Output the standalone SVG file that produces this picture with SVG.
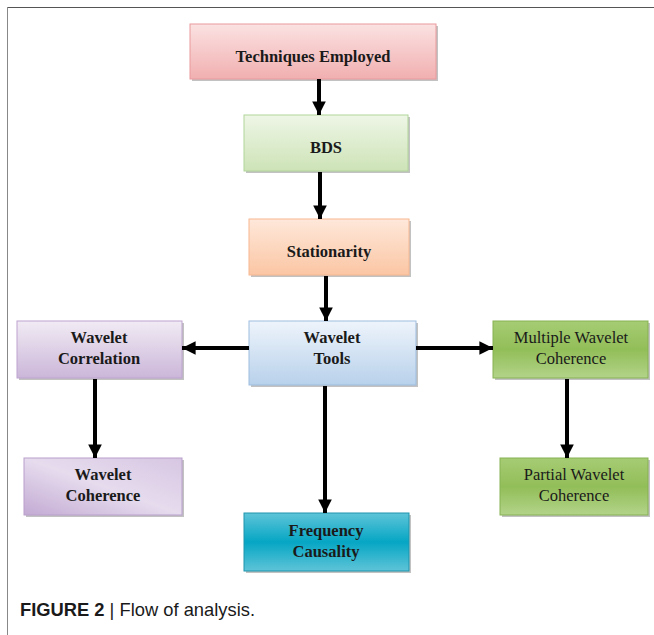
<svg xmlns="http://www.w3.org/2000/svg" width="654" height="635" viewBox="0 0 654 635">
<defs>
<linearGradient id="gPink" x1="0" y1="0" x2="0" y2="1"><stop offset="0" stop-color="#fbe2e2"/><stop offset="1" stop-color="#f1afb0"/></linearGradient>
<linearGradient id="gGreenL" x1="0" y1="0" x2="0" y2="1"><stop offset="0" stop-color="#eef6e6"/><stop offset="1" stop-color="#cde3b7"/></linearGradient>
<linearGradient id="gPeach" x1="0" y1="0" x2="0" y2="1"><stop offset="0" stop-color="#fee8da"/><stop offset="1" stop-color="#fbc6a4"/></linearGradient>
<linearGradient id="gBlue" x1="0" y1="0" x2="0" y2="1"><stop offset="0" stop-color="#eef4fb"/><stop offset="1" stop-color="#b8d1eb"/></linearGradient>
<linearGradient id="gPurple" x1="0" y1="0" x2="0" y2="1"><stop offset="0" stop-color="#f1ebf4"/><stop offset="1" stop-color="#cbb6d9"/></linearGradient>
<linearGradient id="gPurple2" x1="0" y1="1" x2="1" y2="0"><stop offset="0" stop-color="#c3aad3"/><stop offset="0.5" stop-color="#e6dcee"/><stop offset="1" stop-color="#d7c6e2"/></linearGradient>
<linearGradient id="gGreenD" x1="0" y1="0" x2="0" y2="1"><stop offset="0" stop-color="#a6cc74"/><stop offset="0.5" stop-color="#92be58"/><stop offset="1" stop-color="#b2d389"/></linearGradient>
<linearGradient id="gTeal" x1="0" y1="0" x2="0" y2="1"><stop offset="0" stop-color="#5ec4d8"/><stop offset="0.5" stop-color="#05a6c4"/><stop offset="1" stop-color="#5ec4d8"/></linearGradient>
<marker id="ah" viewBox="0 0 10 10" refX="10" refY="5" markerWidth="3.4" markerHeight="3.4" orient="auto" markerUnits="strokeWidth"><path d="M0,0 L10,5 L0,10 Z" fill="#000"/></marker>
</defs>
<style>
.shadow{fill:#9a9a9a;opacity:0.6}
.t{font-family:"Liberation Serif","Times New Roman",serif;font-weight:bold;font-size:16.5px;fill:#1a1a1a;text-anchor:middle}
.tn{font-family:"Liberation Serif","Times New Roman",serif;font-size:16.5px;fill:#1a1a1a;text-anchor:middle}
.c{stroke:#000;stroke-width:4;fill:none;marker-end:url(#ah)}
</style>
<rect width="654" height="635" fill="#fff"/>
<g id="frame"><line x1="7" y1="7.5" x2="654" y2="7.5" stroke="#555" stroke-width="1"/><line x1="7.5" y1="7" x2="7.5" y2="635" stroke="#888" stroke-width="1"/></g>

<g id="techniques">
<rect class="shadow" x="192" y="26" width="246" height="55"/>
<rect x="190" y="24" width="246" height="55" fill="url(#gPink)" stroke="#ea9a9c" stroke-width="1"/>
<text class="t" x="313" y="62">Techniques Employed</text>
</g>
<g id="bds">
<rect class="shadow" x="246" y="117" width="164" height="56"/>
<rect x="244" y="115" width="164" height="56" fill="url(#gGreenL)" stroke="#b2d59a" stroke-width="1"/>
<text class="t" x="326" y="153">BDS</text>
</g>
<g id="stationarity">
<rect class="shadow" x="251" y="221" width="160" height="56"/>
<rect x="249" y="219" width="160" height="56" fill="url(#gPeach)" stroke="#f7b892" stroke-width="1"/>
<text class="t" x="329" y="257">Stationarity</text>
</g>
<g id="wavelet-tools">
<rect class="shadow" x="251" y="323" width="167" height="64"/>
<rect x="249" y="321" width="167" height="64" fill="url(#gBlue)" stroke="#9dbde0" stroke-width="1"/>
<text class="t" x="332" y="343">Wavelet</text>
<text class="t" x="332" y="364">Tools</text>
</g>
<g id="wavelet-correlation">
<rect class="shadow" x="19" y="323" width="165" height="57"/>
<rect x="17" y="321" width="165" height="57" fill="url(#gPurple)" stroke="#bda4cf" stroke-width="1"/>
<text class="t" x="99" y="343">Wavelet</text>
<text class="t" x="99" y="364">Correlation</text>
</g>
<g id="wavelet-coherence">
<rect class="shadow" x="26" y="460" width="158" height="57"/>
<rect x="24" y="458" width="158" height="57" fill="url(#gPurple2)" stroke="#b9a0cc" stroke-width="1"/>
<text class="t" x="103" y="480">Wavelet</text>
<text class="t" x="103" y="501">Coherence</text>
</g>
<g id="multiple-wavelet-coherence">
<rect class="shadow" x="495" y="323" width="155" height="57"/>
<rect x="493" y="321" width="155" height="57" fill="url(#gGreenD)" stroke="#86b153" stroke-width="1"/>
<text class="tn" x="571" y="343">Multiple Wavelet</text>
<text class="tn" x="571" y="364">Coherence</text>
</g>
<g id="partial-wavelet-coherence">
<rect class="shadow" x="502" y="460" width="148" height="57"/>
<rect x="500" y="458" width="148" height="57" fill="url(#gGreenD)" stroke="#86b153" stroke-width="1"/>
<text class="tn" x="574" y="480">Partial Wavelet</text>
<text class="tn" x="574" y="501">Coherence</text>
</g>
<g id="frequency-causality">
<rect class="shadow" x="246" y="515" width="165" height="58"/>
<rect x="244" y="513" width="165" height="58" fill="url(#gTeal)" stroke="#1e93ad" stroke-width="1"/>
<text class="t" x="326" y="536">Frequency</text>
<text class="t" x="326" y="557">Causality</text>
</g>

<g id="connectors">
<line class="c" x1="319" y1="79" x2="319" y2="115"/>
<line class="c" x1="320" y1="172" x2="320" y2="219"/>
<line class="c" x1="326" y1="276" x2="326" y2="321"/>
<line class="c" x1="249" y1="348" x2="182" y2="348"/>
<line class="c" x1="416" y1="348" x2="493" y2="348"/>
<line class="c" x1="325" y1="386" x2="325" y2="513"/>
<line class="c" x1="95" y1="379" x2="95" y2="458"/>
<line class="c" x1="567" y1="379" x2="567" y2="458"/>
</g>

<g id="caption">
<text x="20" y="616" font-family="'Liberation Sans',Arial,sans-serif" font-size="18.5" fill="#1a1a1a" textLength="235" lengthAdjust="spacingAndGlyphs"><tspan font-weight="bold">FIGURE 2</tspan> | Flow of analysis.</text>
</g>
</svg>
